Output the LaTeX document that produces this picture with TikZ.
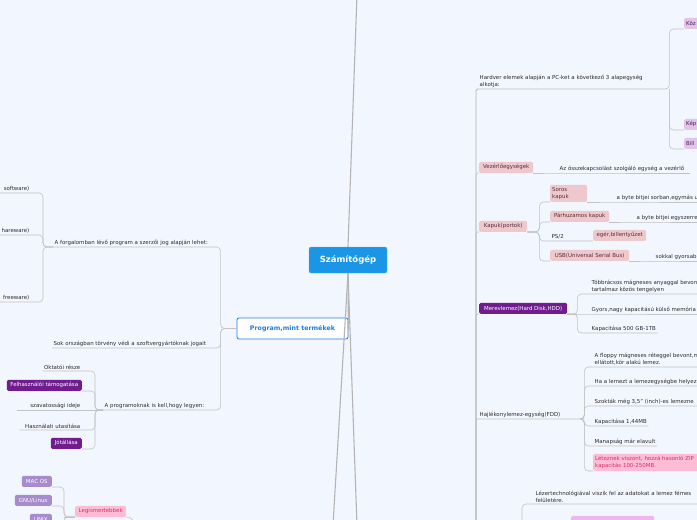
\documentclass[tikz,border=0pt]{standalone}
\usepackage{fontspec}
\setmainfont{DejaVu Sans}
\usetikzlibrary{positioning}
\definecolor{bgblue}{HTML}{F2F6FF}
\definecolor{linegray}{HTML}{C2C2C2}
\definecolor{trunkgray}{HTML}{B4B4B4}
\definecolor{textgray}{HTML}{2B2B2B}
\definecolor{centerblue}{HTML}{1B96E6}
\definecolor{progblue}{HTML}{1E7FE0}
\definecolor{rosefill}{HTML}{EDC9CE}
\definecolor{rosetext}{HTML}{5E2B33}
\definecolor{lilafill}{HTML}{E2C3EA}
\definecolor{lilatext}{HTML}{4A1F5A}
\definecolor{darkpurple}{HTML}{701C8E}
\definecolor{lavender}{HTML}{A68BCD}
\definecolor{pinkfill}{HTML}{FFBCD5}
\definecolor{pinktext}{HTML}{D2306C}
\definecolor{violetfill}{HTML}{F2B3F2}
\tikzset{
  conn/.style={draw=linegray, line width=0.6pt, rounded corners=4pt},
  trunk/.style={draw=trunkgray, line width=1.1pt},
  leaf/.style={font=\fontsize{5.45}{6.8}\selectfont, text=textgray, inner xsep=1.5pt, inner ysep=1.6pt, align=left},
  tag/.style={rounded corners=1.5pt, font=\fontsize{5.45}{6.8}\selectfont, inner xsep=2pt, inner ysep=1pt, minimum height=11pt},
  rosebox/.style={tag, fill=rosefill, text=rosetext},
  lilabox/.style={tag, fill=lilafill, text=lilatext},
  purplebox/.style={tag, fill=darkpurple, text=white},
  lavbox/.style={tag, fill=lavender, text=white},
  pinkbox/.style={tag, fill=pinkfill, text=pinktext},
  centerbox/.style={rounded corners=2pt, fill=centerblue, draw=centerblue!70!white, text=white, font=\fontsize{8.5}{10}\selectfont\bfseries},
  progbox/.style={rounded corners=2pt, fill=white, draw=progblue, line width=0.8pt, text=progblue, font=\fontsize{6.3}{8}\selectfont\bfseries}
}
\begin{document}
\begin{tikzpicture}[x=1pt,y=-1pt]
  \fill[bgblue] (0,0) rectangle (697,520);
  \useasboundingbox (0,0) rectangle (697,520);
  \clip (0,0) rectangle (697,520);
  \coordinate (ledge) at (-5,0);
  \coordinate (redge) at (702,0);

  % kozponti temak
  \node[centerbox, minimum width=78pt, minimum height=26pt] (cnt) at (348,260) {Számítógép};
  \node[progbox, minimum width=111pt, minimum height=21pt] (ptermek) at (292.5,328.5) {Program,mint termékek};
  \coordinate (top) at (357,-5);
  \coordinate (bl) at (333,525);
  \coordinate (br) at (357,525);
  \draw[trunk] (top) -- (cnt.north);
  \draw[trunk] (cnt.south) -- (bl);
  \draw[trunk] (cnt.south) -- (br);
  \draw[trunk] (cnt.south) -- (ptermek.east);

  % bal oldal: program
  \node[leaf, anchor=south west] (forg) at (53,247) {A forgalomban lévő program a szerzői jog alapján lehet:};
  \node[leaf, anchor=south west] (sok) at (52,348) {Sok országban törvény védi a szoftvergyártóknak jogait};
  \node[leaf, anchor=south west] (prg) at (103,410) {A programoknak is kell,hogy legyen:};
  \coordinate (pb) at ([xshift=-16pt]ptermek.west);
  \draw[conn] (ptermek.west) -- (pb) |- (forg.south east) -- (forg.south west);
  \draw[conn] (ptermek.west) -- (pb) |- (sok.south east) -- (sok.south west);
  \draw[conn] (ptermek.west) -- (pb) |- (prg.south east) -- (prg.south west);

  \node[leaf, anchor=south east] (sw) at (31,193) {software)};
  \node[leaf, anchor=south east] (sh) at (31,235) {hareware)};
  \node[leaf, anchor=south east] (fw) at (31,302) {freeware)};
  \coordinate (fb) at ([xshift=-10pt]forg.south west);
  \draw[conn] (forg.south west) -- (fb) |- (sw.south east) -- (sw.south west -| ledge);
  \draw[conn] (forg.south west) -- (fb) |- (sh.south east) -- (sh.south west -| ledge);
  \draw[conn] (forg.south west) -- (fb) |- (fw.south east) -- (fw.south west -| ledge);

  \node[leaf, anchor=south east] (okt) at (82,371) {Oktatói része};
  \node[purplebox, anchor=south east, minimum width=75pt] (felh) at (82,391) {Felhasználói támogatása};
  \node[leaf, anchor=south east] (szav) at (82,410) {szavatossági ideje};
  \node[leaf, anchor=south east] (hasz) at (82,430) {Használati utasítása};
  \node[purplebox, anchor=south east, minimum width=31pt] (jot) at (82,449) {Jótállása};
  \coordinate (qb) at ([xshift=-8pt]prg.south west);
  \draw[conn] (prg.south west) -- (qb) |- (okt.south east) -- (okt.south west);
  \draw[conn] (prg.south west) -- (qb) |- (felh.south east);
  \draw[conn] (prg.south west) -- ([xshift=-12pt]szav.south west);
  \draw[conn] (prg.south west) -- (qb) |- (hasz.south east) -- ([xshift=-4pt]hasz.south west);
  \draw[conn] (prg.south west) -- (qb) |- (jot.south east);

  % operacios rendszerek
  \node[lavbox, anchor=south east, minimum width=30pt] (mac) at (52,487) {MAC OS};
  \node[lavbox, anchor=south east, minimum width=37pt] (gnu) at (52,506) {GNU/Linux};
  \node[lavbox, anchor=south east, minimum width=22pt] (unix) at (52,525) {UNIX};
  \node[pinkbox, anchor=south west, minimum width=51pt] (legism) at (75,517) {Legismertebbek};
  \coordinate (lb) at ([xshift=-11pt]legism.south west);
  \coordinate (lo) at (137,535);
  \draw[conn] (legism.south west) -- (lb) |- (mac.south east);
  \draw[conn] (legism.south west) -- (lb) |- (gnu.south east);
  \draw[conn] (legism.south west) -- (lb) |- (unix.south east);
  \draw[conn, line width=1pt] (legism.south west) -- (lb);
  \draw[conn] (legism.south east) to[out=0,in=95] (lo);

  % jobb oldal: hardver
  \coordinate (rb) at (476,525);
  \node[leaf, anchor=south west, text width=188pt] (hw) at (478,89) {Hardver elemek alapján a PC-ket a következő 3 alapegység\\alkotja:};
  \node[lilabox, anchor=south west, text width=30pt] (koz) at (684,29) {Köz};
  \node[lilabox, anchor=south west, text width=30pt] (kep) at (684,130) {Kép};
  \node[lilabox, anchor=south west, text width=30pt] (bil) at (684,149) {Bill};
  \draw[trunk, line width=0.9pt, rounded corners=1.5pt] (rb) |- (hw.south west);
  \draw[conn] (hw.south west) -- (hw.south east) |- (koz.south west);
  \draw[conn] (hw.south east) |- (kep.south west);
  \draw[conn] (hw.south east) |- (bil.south west);

  \node[rosebox, anchor=south west, minimum width=54pt] (vez) at (479,173) {Vezérlőegységek};
  \node[leaf, anchor=south west] (vezd) at (558,173) {Az összekapcsolást szolgáló egység a vezérlő};
  \draw[conn, rounded corners=1.5pt] (rb) |- (vez.south west);
  \draw[conn] (vez.south east) -- (vezd.south west) -- ([xshift=4pt]vezd.south east);

  \node[rosebox, anchor=south west, minimum width=48pt] (kap) at (479,232) {Kapuk(portok)};
  \coordinate (kb) at ([xshift=12pt]kap.south east);
  \node[rosebox, anchor=south west, text width=33pt, minimum height=17pt] (soros) at (550,202) {Soros\\kapuk};
  \node[leaf, anchor=south west] (sorosd) at (615,202) {a byte bitjei sorban,egymás u};
  \node[rosebox, anchor=south west, minimum width=59pt] (parh) at (550,222) {Párhuzamos kapuk};
  \node[leaf, anchor=south west] (parhd) at (635,222) {a byte bitjei egyszerre};
  \node[leaf, anchor=south west] (ps) at (550,241) {PS/2};
  \node[rosebox, anchor=south west, minimum width=53pt] (eger) at (593,241) {egér,billentyűzet};
  \node[rosebox, anchor=south west, minimum width=79pt] (usb) at (550,261) {USB(Universal Serial Bus)};
  \node[leaf, anchor=south west] (usbd) at (654,261) {sokkal gyorsab};
  \draw[conn, rounded corners=1.5pt] (rb) |- (kap.south west);
  \draw[conn] (kap.south east) -- (kb) |- (soros.south west);
  \draw[conn] (soros.south east) -- (sorosd.south west) -- (sorosd.south west -| redge);
  \draw[conn] (kap.south east) -- (kb) |- (parh.south west);
  \draw[conn] (parh.south east) -- (parhd.south west) -- (parhd.south west -| redge);
  \draw[conn] (kap.south east) -- (kb) |- (ps.south west) -- (eger.south west);
  \draw[conn] (kap.south east) -- (kb) |- (usb.south west);
  \draw[conn] (usb.south east) -- (usbd.south west) -- (usbd.south west -| redge);

  \node[purplebox, anchor=south west, minimum width=88pt] (hdd) at (479,314) {Merevlemez(Hard Disk,HDD)};
  \coordinate (hb) at ([xshift=10pt]hdd.south east);
  \node[leaf, anchor=south west] (h1) at (590,294) {Többrácsos mágneses anyaggal bevont\\tartalmaz közös tengelyen};
  \node[leaf, anchor=south west] (h2) at (590,314) {Gyors,nagy kapacitású külső memória};
  \node[leaf, anchor=south west] (h3) at (590,333) {Kapacitása 500 GB-1TB};
  \draw[conn, rounded corners=1.5pt] (rb) |- (hdd.south west);
  \draw[conn] (hdd.south east) -- (hb) |- (h1.south west) -- (h1.south west -| redge);
  \draw[conn] (hdd.south east) -- (h2.south west) -- (h2.south west -| redge);
  \draw[conn] (hdd.south east) -- (hb) |- (h3.south west) -- (h3.south east);

  \node[leaf, anchor=south west, text width=99pt] (fdd) at (478,419) {Hajlékonylemez-egység(FDD)};
  \coordinate (db) at ([xshift=4pt]fdd.south east);
  \node[leaf, anchor=south west] (f1) at (593,367) {A floppy mágneses réteggel bevont,m\\ellátott,kör alakú lemez.};
  \node[leaf, anchor=south west] (f2) at (593,386) {Ha a lemezt a lemezegységbe helyez};
  \node[leaf, anchor=south west] (f3) at (593,406) {Szokták még 3,5" (inch)-es lemezne};
  \node[leaf, anchor=south west] (f4) at (593,426) {Kapacitása 1,44MB};
  \node[leaf, anchor=south west] (f5) at (593,446) {Manapság már elavult};
  \node[pinkbox, anchor=south west, text width=110pt, align=left, minimum height=17pt] (f6) at (593,471) {Léteznek viszont, hozzá hasonló ZIP\\kapacitás 100-250MB.};
  \draw[conn, rounded corners=1.5pt] (rb) |- (fdd.south west);
  \draw[conn] (fdd.south west) -- (fdd.south east) -- (db) |- (f1.south west) -- (f1.south west -| redge);
  \draw[conn] (fdd.south east) -- (db) |- (f2.south west) -- (f2.south west -| redge);
  \draw[conn] (fdd.south east) -- (db) |- (f3.south west) -- (f3.south west -| redge);
  \draw[conn] (fdd.south east) -- (db) |- (f4.south west) -- (f4.south east);
  \draw[conn] (fdd.south east) -- (db) |- (f5.south west) -- (f5.south east);
  \draw[conn] (fdd.south east) -- (db) |- (f6.south west);

  % optikai
  \coordinate (zb) at (522,525);
  \node[leaf, anchor=south west] (lz) at (534,504) {Lézertechnológiával viszik fel az adatokat a lemez fémes\\felületére.};
  \node[tag, fill=violetfill, anchor=south west, minimum width=83pt, minimum height=14pt] (vio) at (571,530) {};
  \draw[conn] (zb) |- (lz.south west) -- (lz.south west -| redge);
  \draw[conn] (zb) |- (vio.south west);
\end{tikzpicture}
\end{document}
